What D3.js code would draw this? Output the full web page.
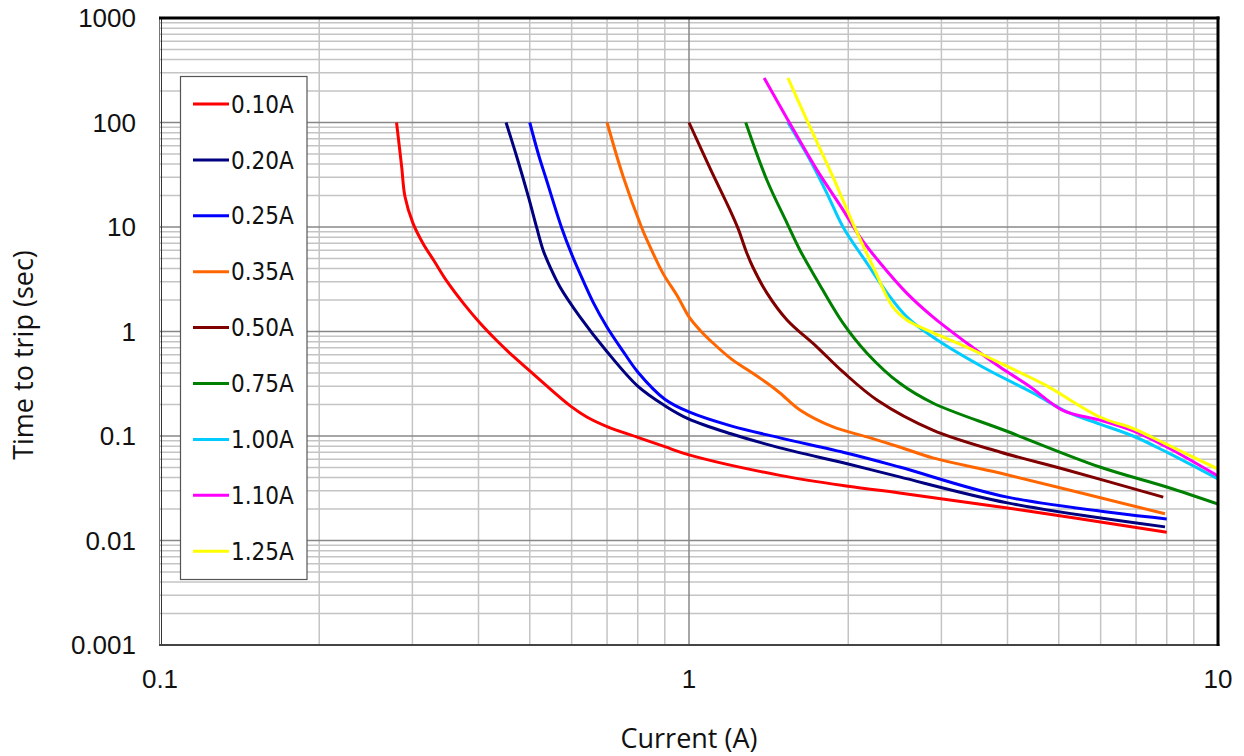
<!DOCTYPE html>
<html>
<head>
<meta charset="utf-8">
<script src="https://cdn.jsdelivr.net/npm/d3@7/dist/d3.min.js"></script>
<style>
  html, body { margin: 0; padding: 0; background: #fff; }
  svg { display: block; }
</style>
</head>
<body>
<svg id="chart" width="1244" height="756"></svg>
<script>
// ---------- DATA ----------
const seriesNames = ["0.10A","0.20A","0.25A","0.35A","0.50A","0.75A","1.00A","1.10A","1.25A"];
const seriesColors = ["#ff0000","#000080","#0000ff","#ff6600","#800000","#008000","#00ccff","#ff00ff","#ffff00"];

const s010 = [[0.280,100],[0.2863,37.8],[0.2905,19.5],[0.3007,10.9],[0.314,7],[0.33,4.7],[0.349,3.0],[0.375,1.85],[0.403,1.2],[0.433,0.82],[0.465,0.58],[0.5,0.42],[0.539,0.3],[0.6,0.19],[0.641,0.152],[0.7,0.123],[0.8,0.097],[0.9,0.079],[1.0,0.066],[1.486,0.042],[2,0.033],[2.5,0.0285],[4,0.0205],[8,0.012]];
const s020 = [[0.451,100],[0.4725,47],[0.497,19.5],[0.5154,9.85],[0.53,6.0],[0.548,4.0],[0.57,2.68],[0.622,1.38],[0.7,0.64],[0.8,0.3],[0.9,0.195],[1.0,0.145],[1.2,0.105],[1.486,0.077],[2,0.054],[2.5,0.0406],[4,0.0229],[7.94,0.0135]];
const s025 = [[0.5,100],[0.519,50],[0.538,28],[0.5744,9.85],[0.6,5.5],[0.622,3.6],[0.659,1.9],[0.7,1.1],[0.75,0.65],[0.8,0.41],[0.9,0.225],[1.0,0.17],[1.2,0.125],[1.486,0.096],[2,0.068],[2.5,0.0505],[4,0.026],[8,0.0161]];
const s035 = [[0.7,100],[0.751,30.3],[0.814,9.85],[0.833,7.5],[0.893,3.6],[0.95,2.2],[1.0,1.38],[1.049,1.03],[1.11,0.776],[1.2,0.55],[1.29,0.43],[1.404,0.321],[1.486,0.258],[1.621,0.177],[1.872,0.122],[2.17,0.098],[2.5,0.0785],[2.89,0.0617],[3.87,0.0442],[7.94,0.018]];
const s050 = [[1.0,100],[1.1,35],[1.195,14.6],[1.24,9.5],[1.28,6.0],[1.32,4.14],[1.404,2.33],[1.532,1.29],[1.746,0.71],[1.955,0.41],[2.27,0.22],[2.89,0.114],[3.87,0.0703],[5.18,0.0473],[7.88,0.026]];
const s075 = [[1.28,100],[1.404,28],[1.532,10.9],[1.621,6.0],[1.746,3.1],[1.955,1.2],[2.17,0.62],[2.5,0.321],[2.89,0.207],[3.99,0.111],[5.98,0.0505],[8.0,0.0325],[10,0.0223]];
const s100 = [[1.538,100],[1.693,43.8],[1.823,21],[1.955,10],[2.17,4.5],[2.37,2.33],[2.58,1.38],[2.89,0.885],[3.59,0.457],[4.47,0.258],[5.18,0.17],[5.98,0.13],[6.91,0.1],[8.0,0.07],[10,0.0388]];
const s110 = [[1.387,267],[1.538,105.7],[1.746,35],[1.955,14.6],[2.105,8.0],[2.30,4.5],[2.58,2.33],[2.89,1.38],[3.35,0.776],[3.87,0.457],[4.4,0.3],[5.1,0.175],[5.98,0.142],[6.91,0.112],[8,0.0785],[10,0.0414]];
const s125 = [[1.538,267],[1.693,90.6],[1.872,30],[2.04,10.9],[2.23,4.14],[2.43,1.71],[2.58,1.29],[2.82,1.03],[3.35,0.71],[3.87,0.5],[4.7,0.31],[5.98,0.152],[6.91,0.118],[8,0.083],[10,0.0483]];
const seriesData = [s010,s020,s025,s035,s050,s075,s100,s110,s125];

const xTicks = [0.1, 1, 10];
const xTickLabels = ["0.1", "1", "10"];
const yTicks = [0.001, 0.01, 0.1, 1, 10, 100, 1000];
const yTickLabels = ["0.001", "0.01", "0.1", "1", "10", "100", "1000"];

// ---------- LAYOUT ----------
const L = 160, R = 1218, T = 18, B = 645;
const svg = d3.select("#chart");
const x = d3.scaleLog().domain([0.1, 10]).range([L, R]);
const y = d3.scaleLog().domain([0.001, 1000]).range([B, T]);

// grid
const g = svg.append("g");
const minorX = [], minorY = [];
[0.1, 1].forEach(d => { for (let k = 2; k <= 9; k++) minorX.push(d * k); });
[0.001, 0.01, 0.1, 1, 10, 100].forEach(d => { for (let k = 2; k <= 9; k++) minorY.push(d * k); });

g.selectAll(".mx").data(minorX).enter().append("line")
  .attr("x1", d => x(d)).attr("x2", d => x(d)).attr("y1", T).attr("y2", B)
  .attr("stroke", "#c4c4c4").attr("stroke-width", 1.5);
g.selectAll(".my").data(minorY).enter().append("line")
  .attr("y1", d => y(d)).attr("y2", d => y(d)).attr("x1", L).attr("x2", R)
  .attr("stroke", "#c4c4c4").attr("stroke-width", 1.5);
g.selectAll(".Mx").data(xTicks.slice(1, -1)).enter().append("line")
  .attr("x1", d => x(d)).attr("x2", d => x(d)).attr("y1", T).attr("y2", B)
  .attr("stroke", "#888").attr("stroke-width", 1.5);
g.selectAll(".My").data(yTicks.slice(1, -1)).enter().append("line")
  .attr("y1", d => y(d)).attr("y2", d => y(d)).attr("x1", L).attr("x2", R)
  .attr("stroke", "#888").attr("stroke-width", 1.5);

// clip
svg.append("defs").append("clipPath").attr("id", "clip")
  .append("rect").attr("x", L).attr("y", T).attr("width", R - L).attr("height", B - T);

const line = d3.line().x(d => x(d[0])).y(d => y(d[1])).curve(d3.curveCatmullRom.alpha(0.5));
const lg = svg.append("g").attr("clip-path", "url(#clip)");
seriesData.forEach((s, i) => {
  lg.append("path").datum(s).attr("d", line)
    .attr("fill", "none").attr("stroke", seriesColors[i]).attr("stroke-width", 3)
    .attr("stroke-linejoin", "round").attr("stroke-linecap", "butt");
});

// frame
svg.append("line").attr("x1", L - 0.5).attr("x2", L - 0.5).attr("y1", T).attr("y2", B + 1).attr("stroke", "#777").attr("stroke-width", 1);
svg.append("line").attr("x1", L + 1.5).attr("x2", L + 1.5).attr("y1", T).attr("y2", B).attr("stroke", "#333").attr("stroke-width", 1);
svg.append("line").attr("x1", L - 1).attr("x2", R + 1.5).attr("y1", B).attr("y2", B).attr("stroke", "#444").attr("stroke-width", 2);
svg.append("line").attr("x1", L - 1).attr("x2", R + 1.5).attr("y1", T).attr("y2", T).attr("stroke", "#000").attr("stroke-width", 3);
svg.append("line").attr("x1", R).attr("x2", R).attr("y1", T - 1.5).attr("y2", B + 1).attr("stroke", "#000").attr("stroke-width", 3);

// tick labels
svg.selectAll(".yl").data(yTicks).enter().append("text")
  .attr("x", 136).attr("y", d => y(d)).attr("dy", "0.36em")
  .attr("text-anchor", "end")
  .attr("font-family", "Liberation Sans, Arial, sans-serif").attr("font-size", 26)
  .attr("fill", "#111").text((d, i) => yTickLabels[i]);
svg.selectAll(".xl").data(xTicks).enter().append("text")
  .attr("x", d => x(d)).attr("y", 688)
  .attr("text-anchor", "middle")
  .attr("font-family", "Liberation Sans, Arial, sans-serif").attr("font-size", 26)
  .attr("fill", "#111").text((d, i) => xTickLabels[i]);

// axis titles
svg.append("text").attr("x", 689).attr("y", 748).attr("text-anchor", "middle")
  .attr("font-family", "Open Sans, sans-serif").attr("font-size", 27).attr("fill", "#111")
  .text("Current (A)");
svg.append("text").attr("transform", "translate(33,355) rotate(-90)").attr("text-anchor", "middle")
  .attr("font-family", "Open Sans, sans-serif").attr("font-size", 27).attr("fill", "#111")
  .text("Time to trip (sec)");

// legend
const leg = svg.append("g");
leg.append("rect").attr("x", 180.5).attr("y", 76.5).attr("width", 126.5).attr("height", 503)
  .attr("fill", "#fff").attr("stroke", "#555").attr("stroke-width", 1.2);
seriesNames.forEach((n, i) => {
  const cy = 104 + i * 55.9;
  leg.append("line").attr("x1", 193).attr("x2", 229).attr("y1", cy).attr("y2", cy)
    .attr("stroke", seriesColors[i]).attr("stroke-width", 3);
  leg.append("text").attr("x", 231).attr("y", cy).attr("dy", "0.36em")
    .attr("font-family", "DejaVu Sans Condensed, DejaVu Sans, sans-serif").attr("font-size", 24)
    .attr("fill", "#111").text(n);
});
</script>
</body>
</html>
